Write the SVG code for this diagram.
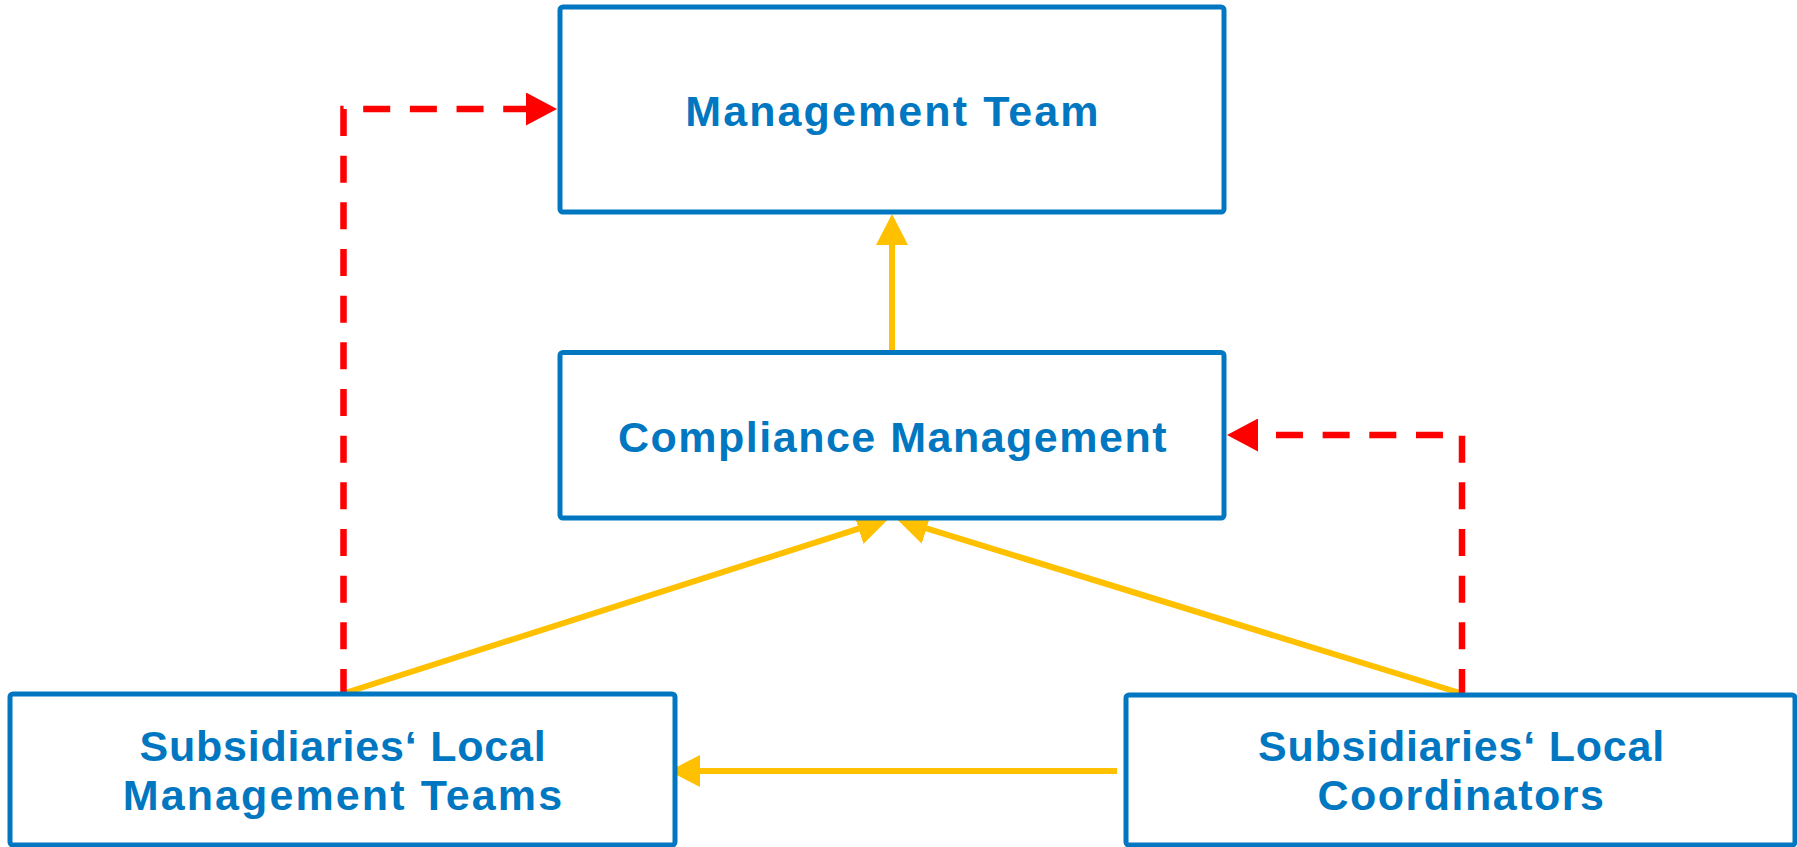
<svg xmlns="http://www.w3.org/2000/svg" width="1797" height="847" viewBox="0 0 1797 847">
  <style>
    .box { fill: #ffffff; stroke: #0077C0; stroke-width: 5; }
    .lbl { font-family: "Liberation Sans", Arial, sans-serif; font-weight: bold; font-size: 43px; fill: #0077C0; text-anchor: middle; letter-spacing: 1.5px; }
    .narrow { letter-spacing: 0.8px; }
    .wider { letter-spacing: 2.1px; }
    .solid { fill: none; stroke: #FFC000; stroke-width: 6; }
    .dash { fill: none; stroke: #FF0000; stroke-width: 6.5; stroke-dasharray: 27 19.67; stroke-dashoffset: 3; }
  </style>
  <defs>
    <marker id="ay" viewBox="0 0 31 32" refX="1" refY="16" markerWidth="31" markerHeight="32" markerUnits="userSpaceOnUse" orient="auto">
      <path d="M0,0 L31,16 L0,32 Z" fill="#FFC000"/>
    </marker>
    <marker id="ar" viewBox="0 0 31 33" refX="1" refY="16.5" markerWidth="31" markerHeight="33" markerUnits="userSpaceOnUse" orient="auto">
      <path d="M0,0 L31,16.5 L0,33 Z" fill="#FF0000"/>
    </marker>
  </defs>
  <rect width="1797" height="847" fill="#ffffff"/>
  <g id="connectors">
    <path class="solid" d="M892,352 L892,244" marker-end="url(#ay)"/>
    <path class="solid" d="M345,693 L859.5,528.4" marker-end="url(#ay)"/>
    <path class="solid" d="M1460,693 L925.6,528.1" marker-end="url(#ay)"/>
    <path class="solid" d="M1117,771 L699,771" marker-end="url(#ay)"/>
    <path class="dash" d="M343.5,693 L343.5,109 L527,109" marker-end="url(#ar)"/>
    <path class="dash" d="M1462,693 L1462,435 L1257,435" marker-end="url(#ar)"/>
  </g>
  <g id="management-team">
    <rect class="box" x="560" y="7" width="664" height="205" rx="3"/>
    <text class="lbl wider" x="893" y="126">Management Team</text>
  </g>
  <g id="compliance-management">
    <rect class="box" x="560" y="352.5" width="664" height="165.5" rx="3"/>
    <text class="lbl" x="893" y="452">Compliance Management</text>
  </g>
  <g id="local-management-teams">
    <rect class="box" x="10" y="694" width="665" height="151" rx="3"/>
    <text class="lbl"><tspan class="narrow" x="343" y="761">Subsidiaries‘ Local</tspan><tspan class="wider" x="343.5" y="810">Management Teams</tspan></text>
  </g>
  <g id="local-coordinators">
    <rect class="box" x="1126" y="695" width="669" height="150" rx="3"/>
    <text class="lbl"><tspan class="narrow" x="1461.5" y="761">Subsidiaries‘ Local</tspan><tspan x="1461.5" y="810">Coordinators</tspan></text>
  </g>
</svg>
